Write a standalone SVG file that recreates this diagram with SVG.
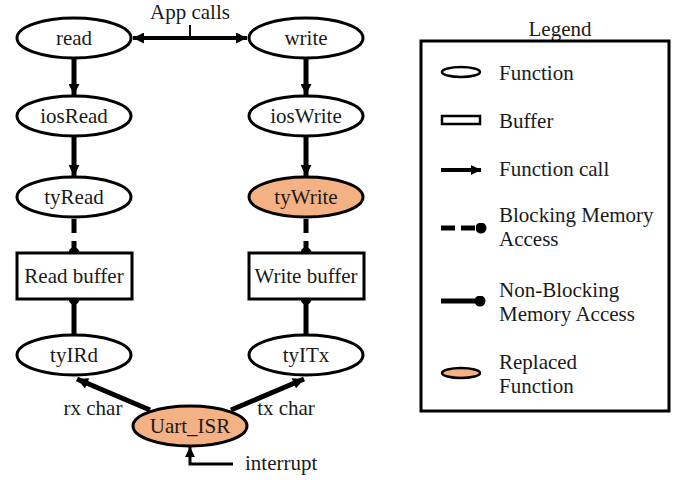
<svg xmlns="http://www.w3.org/2000/svg" width="680" height="480" viewBox="0 0 680 480">
<defs>
<marker id="arr" viewBox="0 0 10 10" refX="10" refY="5" markerWidth="12" markerHeight="11" markerUnits="userSpaceOnUse" orient="auto-start-reverse"><path d="M0,0 L10,5 L0,10 z" fill="#000"/></marker>
<marker id="arrs" viewBox="0 0 10 10" refX="10" refY="5" markerWidth="10" markerHeight="10" markerUnits="userSpaceOnUse" orient="auto-start-reverse"><path d="M0,0 L10,5 L0,10 z" fill="#000"/></marker>
<marker id="dot" viewBox="0 0 10 10" refX="5" refY="5" markerWidth="11" markerHeight="11" markerUnits="userSpaceOnUse" orient="auto"><circle cx="5" cy="5" r="5" fill="#000"/></marker>
</defs>
<style>
.fn{fill:#fff;stroke:#000;stroke-width:3}
.rep{fill:#F4B183;stroke:#000;stroke-width:3}
.buf{fill:#fff;stroke:#000;stroke-width:3}
text{font-family:'Liberation Serif','Times New Roman',Times,serif;font-size:21px;fill:#1a1a1a}
.c{text-anchor:middle}
.call{stroke:#000;stroke-width:5;fill:none;marker-end:url(#arr)}
.blk{stroke:#000;stroke-width:5;fill:none;stroke-dasharray:14 8;marker-end:url(#dot)}
.nb{stroke:#000;stroke-width:5;fill:none}
</style>
<rect width="680" height="480" fill="#fff"/>
<g id="connectors">
<line class="call" x1="74" y1="59" x2="74" y2="95"/>
<line class="call" x1="74" y1="137" x2="74" y2="176"/>
<line class="blk" x1="74" y1="219" x2="74" y2="253"/>
<line class="nb" x1="74" y1="299" x2="74" y2="334" marker-start="url(#dot)"/>
<line class="call" x1="306" y1="59" x2="306" y2="95"/>
<line class="call" x1="306" y1="137" x2="306" y2="176"/>
<line class="blk" x1="306" y1="219" x2="306" y2="253"/>
<line class="nb" x1="306" y1="299" x2="306" y2="334" marker-start="url(#dot)"/>
<line class="call" x1="150" y1="410" x2="77" y2="379"/>
<line class="call" x1="231" y1="410" x2="304" y2="379"/>
<polyline points="233,464 190,464 190,447" fill="none" stroke="#000" stroke-width="3" marker-end="url(#arrs)"/>
<line x1="133" y1="38" x2="247" y2="38" stroke="#000" stroke-width="4" marker-start="url(#arr)" marker-end="url(#arr)"/>
<line x1="190" y1="25" x2="190" y2="38" stroke="#000" stroke-width="2"/>
<text class="c" x="190" y="19" font-family="Liberation Serif, serif">App calls</text>
<text class="c" x="93" y="415" font-family="Liberation Serif, serif">rx char</text>
<text class="c" x="286" y="415" font-family="Liberation Serif, serif">tx char</text>
<text x="245" y="470" font-family="Liberation Serif, serif">interrupt</text>
</g>
<g id="read"><ellipse class="fn" cx="74" cy="38" rx="57" ry="20"/><text class="c" x="74" y="45">read</text></g>
<g id="iosRead"><ellipse class="fn" cx="74" cy="116" rx="57" ry="20"/><text class="c" x="74" y="123">iosRead</text></g>
<g id="tyRead"><ellipse class="fn" cx="74" cy="197" rx="57" ry="20"/><text class="c" x="74" y="204">tyRead</text></g>
<g id="readBuffer"><rect class="buf" x="17" y="253" width="115" height="46"/><text class="c" x="74" y="283">Read buffer</text></g>
<g id="tyIRd"><ellipse class="fn" cx="74" cy="355" rx="57" ry="20"/><text class="c" x="74" y="362">tyIRd</text></g>
<g id="write"><ellipse class="fn" cx="306" cy="38" rx="57" ry="20"/><text class="c" x="306" y="45">write</text></g>
<g id="iosWrite"><ellipse class="fn" cx="306" cy="116" rx="57" ry="20"/><text class="c" x="306" y="123">iosWrite</text></g>
<g id="tyWrite"><ellipse class="rep" cx="306" cy="197" rx="57" ry="20"/><text class="c" x="306" y="204">tyWrite</text></g>
<g id="writeBuffer"><rect class="buf" x="249" y="253" width="115" height="46"/><text class="c" x="306" y="283">Write buffer</text></g>
<g id="tyITx"><ellipse class="fn" cx="306" cy="355" rx="57" ry="20"/><text class="c" x="306" y="362">tyITx</text></g>
<g id="Uart_ISR"><ellipse class="rep" cx="190" cy="426" rx="57" ry="20"/><text class="c" x="190" y="433">Uart_ISR</text></g>
<g id="legend">
<text class="c" x="560" y="36">Legend</text>
<rect x="421" y="41" width="248" height="370" fill="none" stroke="#000" stroke-width="3"/>
<ellipse cx="461" cy="72" rx="19" ry="5" fill="#fff" stroke="#000" stroke-width="2.5"/>
<text x="499" y="80">Function</text>
<rect x="442" y="116" width="38" height="8" fill="#fff" stroke="#000" stroke-width="2.5"/>
<text x="499" y="128">Buffer</text>
<line x1="441" y1="170" x2="481" y2="170" stroke="#000" stroke-width="4" marker-end="url(#arrs)"/>
<text x="499" y="176">Function call</text>
<line x1="441" y1="228" x2="481" y2="228" stroke="#000" stroke-width="5" stroke-dasharray="14 6" marker-end="url(#dot)"/>
<text x="499" y="222">Blocking Memory</text>
<text x="499" y="246">Access</text>
<line x1="441" y1="301" x2="480" y2="301" stroke="#000" stroke-width="5" marker-end="url(#dot)"/>
<text x="499" y="297">Non-Blocking</text>
<text x="499" y="321">Memory Access</text>
<ellipse cx="461" cy="373" rx="19" ry="5" fill="#F4B183" stroke="#000" stroke-width="2.5"/>
<text x="499" y="369">Replaced</text>
<text x="499" y="393">Function</text>
</g>
</svg>
